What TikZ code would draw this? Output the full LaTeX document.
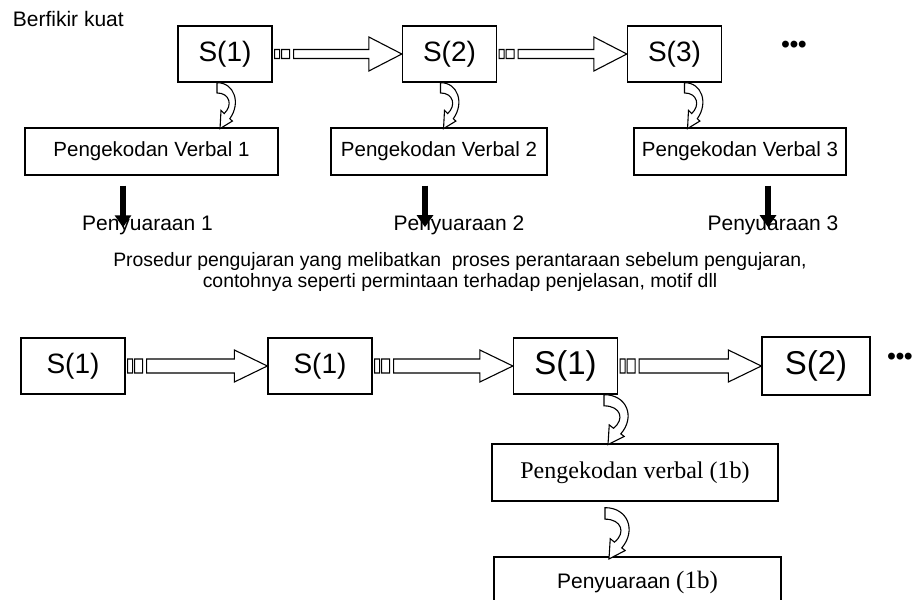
\documentclass[tikz,border=0pt]{standalone}
\usepackage{fontspec}
\setmainfont{Liberation Sans}
\newfontfamily\timesfont{Liberation Serif}
\usetikzlibrary{positioning,calc,arrows.meta}

% hooked ribbon arrow going down from a box
\tikzset{curly/.pic={
  \draw[fill=white,line width=1.1pt] (0,0) .. controls (22,0) and (30,20) .. (16,35)
    -- (19.2,37.3) -- (3.8,44.6) -- (5,27) -- (9,30)
    .. controls (20,22) and (16,10) .. (0,10) -- cycle;}}

% from, to, half shaft, half head
\newcommand{\stripearrow}[4]{%
  \draw[line width=1.1pt] let \p1=(#1.east), \p2=(#2.west) in
    (\x1+2,\y1-#3) rectangle (\x1+7,\y1+#3)
    (\x1+9,\y1-#3) rectangle (\x1+17,\y1+#3)
    (\x1+21,\y1-#3) -- (\x2-33,\y1-#3) -- (\x2-33,\y1-#4) -- (\x2,\y1)
    -- (\x2-33,\y1+#4) -- (\x2-33,\y1+#3) -- (\x1+21,\y1+#3) -- cycle;}

\begin{document}
\begin{tikzpicture}[x=1pt,y=-1pt,on grid,
    sbox/.style={draw,line width=1.3pt,minimum width=94pt,minimum height=56pt,inner sep=0pt,
      font=\fontsize{28}{32}\selectfont},
    bigsbox/.style={sbox,minimum width=104pt,font=\fontsize{33}{38}\selectfont},
    codebox/.style={draw,line width=1.3pt,minimum height=47pt,inner sep=0pt,
      font=\fontsize{20.5}{24}\selectfont},
    plain/.style={inner sep=0pt,font=\fontsize{21}{25}\selectfont},
    dots/.style={inner sep=0pt,font=\fontsize{24}{28}\selectfont\bfseries},
    thickarr/.style={line width=6pt,-{Triangle[width=16pt,length=12pt]},shorten >=-2pt}]
  \useasboundingbox (0,0) rectangle (914,600);
  \clip (0,0) rectangle (914,600);

  \node[plain,anchor=base west] (title) at (12.7,26) {Berfikir kuat};

  % top row
  \node[sbox] (s1) at (225,54) {S(1)};
  \node[sbox] (s2) [right=224.5pt of s1] {S(2)};
  \node[sbox] (s3) [right=225pt of s2] {S(3)};
  \node[dots] (d1) at (794,47) {•••};
  \stripearrow{s1}{s2}{4.5}{17}
  \stripearrow{s2}{s3}{4.5}{17}

  \node[codebox,minimum width=253pt] (pv1) [below left=97.5pt and 73.5pt of s1] {Pengekodan Verbal 1};
  \node[codebox,minimum width=216pt] (pv2) [below left=97.5pt and 10.5pt of s2] {Pengekodan Verbal 2};
  \node[codebox,minimum width=212pt] (pv3) [below right=97.5pt and 65.5pt of s3] {Pengekodan Verbal 3};
  \pic[xscale=0.8,yscale=1.03] at ([xshift=-8pt]s1.south) {curly};
  \pic[xscale=0.8,yscale=1.03] at ([xshift=-9pt]s2.south) {curly};
  \pic[xscale=0.8,yscale=1.03] at ([xshift=10pt]s3.south) {curly};

  \node[plain,anchor=base] (pe1) at (147.5,230) {Penyuaraan 1};
  \node[plain,anchor=base] (pe2) at (459,230) {Penyuaraan 2};
  \node[plain,anchor=base] (pe3) at (773,230) {Penyuaraan 3};
  \draw[thickarr] ([shift={(-28.5,10)}]pv1.south) -- ([shift={(-28.5,10)}]pv1.south |- pe1.north);
  \draw[thickarr] ([shift={(-14,10)}]pv2.south) -- ([shift={(-14,10)}]pv2.south |- pe2.north);
  \draw[thickarr] ([shift={(28,10)}]pv3.south) -- ([shift={(28,10)}]pv3.south |- pe3.north);

  \node[plain,align=center,font=\fontsize{19.4}{20.5}\selectfont] (note) at (460,272)
    {Prosedur pengujaran yang melibatkan\ \ proses perantaraan sebelum pengujaran,\\
     contohnya seperti permintaan terhadap penjelasan, motif dll};

  % bottom row
  \node[sbox,minimum width=104pt] (b1) at (73,366) {S(1)};
  \node[sbox,minimum width=104pt] (b2) [right=247pt of b1] {S(1)};
  \node[bigsbox] (b3) [right=245.5pt of b2] {S(1)};
  \node[bigsbox,minimum width=108pt,minimum height=58pt] (b4) [right=250.5pt of b3] {S(2)};
  \node[dots] (d2) at (900,359) {•••};
  \stripearrow{b1}{b2}{7}{16}
  \stripearrow{b2}{b3}{7}{16}
  \stripearrow{b3}{b4}{7}{16}

  \node[codebox,minimum width=286pt,minimum height=57pt,font=\timesfont\fontsize{24}{28}\selectfont]
    (pvb) [below right=106.5pt and 69.5pt of b3] {Pengekodan verbal (1b)};
  \node[codebox,minimum width=287pt,minimum height=50pt,font=\fontsize{21}{25}\selectfont]
    (peb) [below right=109.5pt and 2.5pt of pvb] {Penyuaraan {\timesfont\fontsize{25}{29}\selectfont(1b)}};
  \pic[xscale=1.05,yscale=1.12] at ([xshift=38.5pt]b3.south) {curly};
  \pic[xscale=1.05,yscale=1.15] at ([shift={(-30,6)}]pvb.south) {curly};
\end{tikzpicture}
\end{document}
